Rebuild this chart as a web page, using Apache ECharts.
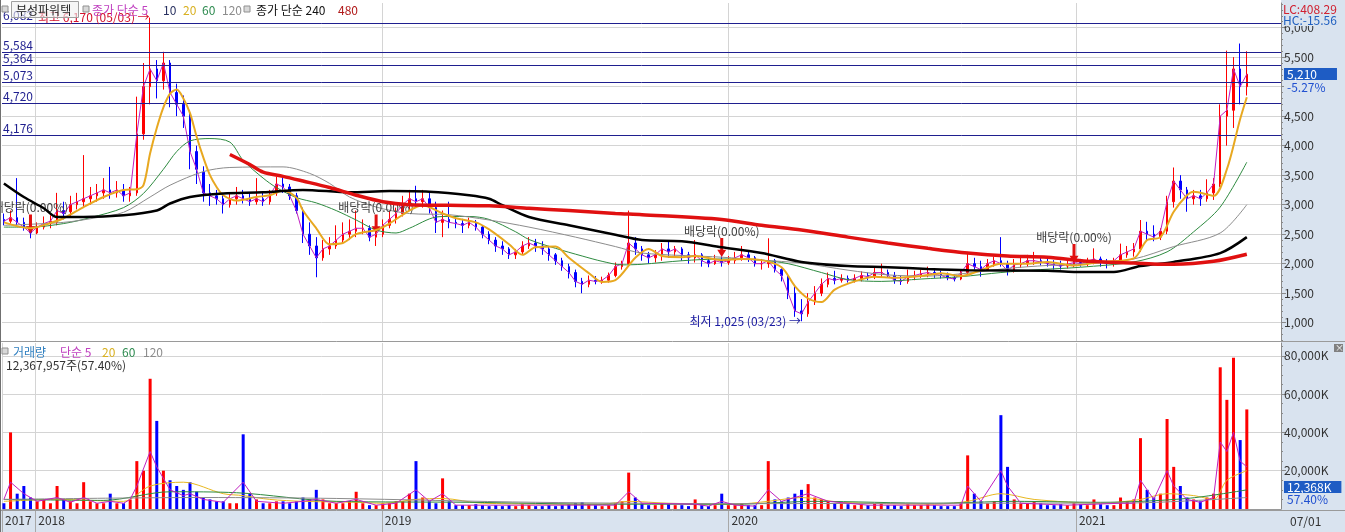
<!DOCTYPE html>
<html><head><meta charset="utf-8">
<script src="https://cdn.jsdelivr.net/npm/echarts@6/dist/echarts.min.js"></script>
<style>html,body{margin:0;padding:0;background:#fff}#c{width:1345px;height:532px}</style>
</head><body><div id="c"></div>
<script>
const FONT = '"Noto Sans CJK KR", "DejaVu Sans", sans-serif';

// weekly candles (mid-week dates)
const dates = [
'2017-11-29','2017-12-06','2017-12-13','2017-12-20','2017-12-27',
'2018-01-03','2018-01-10','2018-01-17','2018-01-24','2018-01-31','2018-02-07','2018-02-14','2018-02-21','2018-02-28','2018-03-07','2018-03-14','2018-03-21','2018-03-28','2018-04-04','2018-04-11','2018-04-18','2018-04-25','2018-05-02','2018-05-09','2018-05-16','2018-05-23','2018-05-30','2018-06-06','2018-06-13','2018-06-20','2018-06-27','2018-07-04','2018-07-11','2018-07-18','2018-07-25','2018-08-01','2018-08-08','2018-08-15','2018-08-22','2018-08-29','2018-09-05','2018-09-12','2018-09-19','2018-09-26','2018-10-03','2018-10-10','2018-10-17','2018-10-24','2018-10-31','2018-11-07','2018-11-14','2018-11-21','2018-11-28','2018-12-05','2018-12-12','2018-12-19','2018-12-26',
'2019-01-02','2019-01-09','2019-01-16','2019-01-23','2019-01-30','2019-02-06','2019-02-13','2019-02-20','2019-02-27','2019-03-06','2019-03-13','2019-03-20','2019-03-27','2019-04-03','2019-04-10','2019-04-17','2019-04-24','2019-05-01','2019-05-08','2019-05-15','2019-05-22','2019-05-29','2019-06-05','2019-06-12','2019-06-19','2019-06-26','2019-07-03','2019-07-10','2019-07-17','2019-07-24','2019-07-31','2019-08-07','2019-08-14','2019-08-21','2019-08-28','2019-09-04','2019-09-11','2019-09-18','2019-09-25','2019-10-02','2019-10-09','2019-10-16','2019-10-23','2019-10-30','2019-11-06','2019-11-13','2019-11-20','2019-11-27','2019-12-04','2019-12-11','2019-12-18','2019-12-25',
'2020-01-01','2020-01-08','2020-01-15','2020-01-22','2020-01-29','2020-02-05','2020-02-12','2020-02-19','2020-02-26','2020-03-04','2020-03-11','2020-03-18','2020-03-25','2020-04-01','2020-04-08','2020-04-15','2020-04-22','2020-04-29','2020-05-06','2020-05-13','2020-05-20','2020-05-27','2020-06-03','2020-06-10','2020-06-17','2020-06-24','2020-07-01','2020-07-08','2020-07-15','2020-07-22','2020-07-29','2020-08-05','2020-08-12','2020-08-19','2020-08-26','2020-09-02','2020-09-09','2020-09-16','2020-09-23','2020-09-30','2020-10-07','2020-10-14','2020-10-21','2020-10-28','2020-11-04','2020-11-11','2020-11-18','2020-11-25','2020-12-02','2020-12-09','2020-12-16','2020-12-23','2020-12-30',
'2021-01-06','2021-01-13','2021-01-20','2021-01-27','2021-02-03','2021-02-10','2021-02-17','2021-02-24','2021-03-03','2021-03-10','2021-03-17','2021-03-24','2021-03-31','2021-04-07','2021-04-14','2021-04-21','2021-04-28','2021-05-05','2021-05-12','2021-05-19','2021-05-26','2021-06-02','2021-06-09','2021-06-16','2021-06-23','2021-06-30'
];
const opens = [2750,2720,2780,2700,2620,2520,2620,2680,2700,2900,2880,3000,3050,3100,3150,3200,3250,3200,3250,3150,3200,4200,5000,5300,5100,5400,4900,4700,4500,3900,3550,3200,3150,3100,3000,3100,3150,3100,3050,3100,3050,3200,3350,3300,3150,2900,2500,2300,2100,2250,2300,2400,2500,2550,2600,2600,2450,2500,2650,2750,2850,3000,3100,3050,3100,2950,2700,2750,2700,2680,2650,2700,2620,2500,2400,2300,2250,2150,2200,2300,2350,2300,2250,2150,2050,1950,1850,1700,1650,1720,1700,1720,1800,1950,2000,2350,2250,2150,2100,2150,2250,2200,2250,2150,2100,2150,2050,2000,2050,2020,2050,2100,2150,2100,2000,2000,2050,1900,1800,1500,1200,1150,1350,1500,1650,1750,1720,1750,1720,1750,1800,1780,1850,1850,1800,1720,1700,1780,1800,1830,1850,1820,1800,1760,1740,1850,2000,1950,1900,2000,2050,2000,1880,1980,2000,2050,2050,2030,2000,1980,1960,1990,2020,2000,2040,2080,2020,2000,2050,2150,2200,2250,2550,2500,2450,2550,3050,3400,3250,3100,3150,3100,3200,3350,4500,4600,5300,5000];
const closes = [2720,2780,2700,2620,2520,2620,2680,2720,2900,2850,3000,3050,3100,3150,3200,3250,3200,3250,3150,3200,4200,5000,5300,5100,5400,4900,4700,4500,3900,3600,3200,3150,3100,3000,3100,3150,3100,3050,3100,3050,3150,3350,3300,3150,2900,2500,2300,2100,2250,2300,2400,2500,2550,2600,2600,2450,2500,2650,2750,2850,3000,3100,3050,3100,2950,2700,2750,2700,2680,2650,2700,2620,2500,2400,2300,2250,2150,2200,2300,2350,2300,2250,2150,2050,1950,1850,1700,1650,1720,1700,1720,1800,1950,2000,2350,2250,2150,2100,2150,2250,2200,2250,2150,2100,2150,2050,2000,2050,2020,2050,2100,2150,2100,2000,2000,2050,1900,1800,1500,1200,1150,1350,1500,1650,1750,1720,1750,1720,1750,1800,1780,1850,1850,1800,1720,1700,1780,1800,1830,1850,1820,1800,1760,1740,1850,2000,1950,1900,2000,2050,2000,1880,1980,2000,2050,2050,2030,2000,1980,1960,1990,2020,2000,2040,2080,2020,2000,2050,2150,2200,2250,2550,2500,2450,2550,3050,3400,3250,3100,3150,3100,3200,3350,4500,4600,5300,5000,5210];
const lows = [2650,2680,2650,2560,2430,2500,2580,2600,2650,2750,2800,2920,2950,3000,3050,3100,3100,3120,3050,3050,3150,4100,4700,4800,4950,4650,4500,4300,3600,3350,3050,2980,3000,2850,2950,3000,3020,2980,3000,2980,3000,3150,3200,3080,2850,2350,2150,1770,2050,2150,2250,2350,2400,2450,2500,2380,2300,2450,2600,2680,2800,2900,2950,2950,2850,2520,2450,2600,2600,2520,2600,2560,2430,2330,2200,2150,2080,2080,2150,2250,2200,2150,2050,1980,1880,1750,1600,1500,1600,1650,1660,1680,1770,1900,1950,2150,2050,2000,2020,2050,2100,2120,2050,2000,2020,1950,1940,1980,1950,1980,2000,2050,2030,1950,1900,1930,1850,1700,1400,1100,1025,1100,1300,1450,1600,1650,1680,1680,1680,1700,1720,1740,1760,1760,1660,1640,1660,1720,1760,1770,1760,1750,1720,1700,1720,1820,1900,1780,1880,1950,1950,1800,1850,1930,1950,1980,1970,1950,1900,1900,1920,1940,1950,1960,1990,1950,1920,1950,2000,2100,2120,2200,2400,2380,2400,2500,2950,3100,2880,3000,2980,3050,3080,3300,4000,4300,4700,4850];
const highs = [2850,2900,3450,2780,2650,2700,2800,2820,3200,3050,3150,3200,3840,3300,3350,3450,3640,3400,3350,3300,4830,5400,6170,5450,5590,5450,5050,4850,4600,4000,3650,3350,3250,3200,3200,3300,3250,3200,3450,3200,3250,3470,3460,3350,3200,2950,2700,2450,2400,2450,2650,2700,2750,2900,2750,2650,2600,2750,2900,2950,3150,3250,3320,3250,3200,3050,2900,3050,2780,2760,2780,2740,2650,2550,2450,2380,2280,2250,2380,2450,2420,2380,2300,2180,2100,2000,1900,1760,1800,1790,1780,1850,2020,2050,2900,2450,2300,2200,2230,2350,2400,2300,2280,2200,2400,2180,2100,2150,2120,2130,2200,2300,2200,2130,2080,2430,2080,1920,1800,1620,1400,1500,1620,1750,1850,1880,1820,1800,1820,1870,1850,1950,2000,1900,1860,1800,1900,1880,1900,1950,1920,1880,1850,1820,1900,2200,2100,2050,2080,2120,2450,2050,2080,2100,2150,2200,2120,2100,2060,2050,2050,2080,2080,2100,2260,2120,2080,2100,2340,2300,2350,2740,2710,2650,2600,3150,3630,3500,3300,3250,3250,3430,3450,4700,5610,5500,5730,5600];
// weekly peak daily volume, thousand shares
const volumes = [3000,40000,8000,12000,6000,4000,5000,3000,12000,5000,4000,3000,14000,4000,3000,3000,8000,3000,3000,5000,25000,20000,68000,46000,20000,15000,12000,10000,14000,9000,6000,5000,4000,4000,3000,3000,39000,8000,5000,3000,3000,4000,4000,3000,4000,6000,5000,10000,5000,3000,3000,3000,4000,9000,3000,2000,2000,3000,3000,4000,4000,8000,25000,6000,4000,3000,16000,4000,2000,2000,2000,2500,2000,1500,2000,1500,2000,1500,2500,2000,1500,1500,2000,1500,2000,2500,3000,3500,2500,2000,1500,2000,3000,4000,19000,6000,3000,2000,2000,3000,2500,2000,2000,1500,5000,2000,1500,2000,8000,2000,2000,3000,2000,2000,2000,25000,5000,4000,6000,8000,10000,13000,6000,5000,4000,3000,3000,2500,2000,2500,2000,3000,3000,2000,2000,1500,2500,2000,2000,2500,2000,1500,1500,1500,3000,28000,8000,4000,3000,4000,49000,22000,5000,3000,3000,4000,3000,2000,2000,2500,2000,3000,2500,2000,5000,2500,2000,2000,6000,4000,5000,37000,10000,6000,8000,47000,22000,12000,6000,5000,4000,6000,8000,74000,57000,79000,36000,52000];

// moving averages: [week index, value]
const ma20 = [[0,2700],[4,2600],[7,2690],[9,2770],[12,2960],[15,3130],[18,3250],[20,3260],[21,3330],[22,3870],[23,4300],[24,4650],[25,4880],[26,4950],[27,4800],[28,4550],[29,4150],[30,3800],[31,3500],[32,3300],[33,3160],[35,3070],[38,3130],[40,3160],[42,3240],[44,3120],[45,2900],[47,2600],[49,2330],[51,2350],[53,2500],[56,2570],[58,2680],[61,2900],[63,2990],[66,2850],[68,2770],[71,2700],[73,2580],[76,2330],[78,2150],[80,2280],[83,2290],[85,2100],[88,1840],[90,1690],[92,1720],[95,2100],[97,2250],[99,2130],[102,2110],[104,2130],[108,2060],[111,2080],[114,2060],[117,1940],[119,1620],[121,1410],[123,1350],[125,1560],[128,1700],[131,1780],[134,1760],[138,1790],[141,1840],[144,1790],[147,1890],[150,2000],[154,2000],[157,2030],[161,1970],[165,2030],[170,2090],[172,2400],[174,2450],[176,2880],[178,3160],[179,3220],[182,3150],[184,3600],[186,4450],[187,4820]];
const ma60 = [[0,2620],[4,2620],[9,2680],[13,2780],[18,2950],[21,3190],[24,3600],[26,3900],[28,4080],[31,4120],[34,4060],[36,3750],[39,3450],[41,3290],[44,3120],[47,3030],[50,2900],[53,2740],[56,2570],[59,2520],[61,2600],[65,2790],[67,2800],[70,2800],[73,2750],[77,2540],[79,2410],[83,2260],[87,2130],[90,2040],[93,1980],[96,1990],[102,2050],[108,2080],[114,2060],[118,2000],[123,1850],[127,1730],[132,1700],[138,1740],[144,1780],[150,1850],[156,1900],[162,1940],[170,2030],[175,2200],[179,2540],[183,2960],[187,3720]];
const ma120 = [[0,2650],[9,2700],[14,2780],[18,2870],[22,3130],[25,3330],[30,3560],[34,3630],[42,3640],[46,3530],[49,3360],[52,3130],[56,2960],[61,2850],[67,2830],[73,2740],[79,2620],[86,2450],[92,2290],[96,2180],[108,2110],[114,2060],[120,2010],[127,1890],[133,1810],[139,1790],[145,1840],[151,1920],[157,1970],[163,2000],[170,2080],[176,2290],[183,2520],[187,3000]];
const ma240 = [[0,3360],[3,3130],[6,2940],[8,2790],[12,2790],[18,2820],[23,2900],[25,3020],[28,3130],[33,3190],[39,3210],[45,3250],[52,3210],[58,3230],[64,3220],[70,3160],[73,3100],[75,2990],[79,2790],[85,2650],[92,2490],[96,2400],[102,2380],[108,2280],[114,2180],[120,2030],[127,1960],[133,1940],[139,1910],[145,1890],[157,1880],[161,1860],[167,1860],[171,1960],[176,2030],[183,2180],[187,2450]];
const ma480 = [[34,3850],[37,3680],[39,3550],[42,3480],[45,3400],[49,3290],[53,3160],[57,3050],[61,3000],[67,2990],[73,2980],[79,2940],[85,2900],[92,2850],[96,2830],[108,2750],[114,2650],[120,2570],[127,2450],[133,2350],[139,2260],[145,2180],[151,2130],[157,2110],[163,2040],[170,2010],[174,1990],[176,1990],[182,2040],[187,2160]];
const volMa5 = [[0,5000],[1,14000],[3,8000],[5,4000],[8,6000],[10,3500],[12,6000],[14,3000],[16,4000],[18,3000],[19,5000],[20,12000],[22,30000],[23,22000],[25,10000],[27,7000],[28,8000],[30,5000],[33,3500],[36,14000],[38,4000],[42,3000],[45,4000],[47,5000],[50,3000],[53,5000],[56,2000],[59,3000],[62,10000],[64,4000],[66,8000],[68,2000],[80,2000],[92,2000],[94,9000],[96,3000],[104,2500],[106,1500],[108,4000],[110,2000],[113,1500],[115,10000],[117,4000],[121,8000],[124,4000],[130,2000],[144,2000],[145,12000],[147,4000],[150,20000],[151,12000],[153,3000],[160,2000],[168,3000],[170,3000],[171,15000],[173,5000],[175,20000],[176,12000],[178,5000],[180,3500],[182,6000],[183,35000],[184,30000],[185,40000],[186,25000],[187,22000]];
const volMa20 = [[0,4000],[8,5000],[18,4000],[22,12000],[27,14000],[33,8000],[36,7000],[40,5000],[45,4000],[53,3500],[57,3000],[62,5000],[66,5500],[72,3000],[90,2500],[94,4000],[100,3000],[110,2500],[115,4000],[120,6000],[126,3500],[140,2500],[145,4000],[150,8000],[155,5000],[165,3000],[171,5000],[175,8000],[179,7000],[182,5000],[184,15000],[187,20000]];
const volMa60 = [[0,5000],[15,4500],[25,9000],[35,8500],[50,4000],[70,3500],[90,2500],[110,2500],[122,4000],[140,3000],[152,4000],[165,3500],[178,5500],[187,10000]];
const volMa120 = [[0,5000],[30,6000],[50,5500],[80,3500],[110,2800],[140,3000],[170,3200],[187,6000]];

const levels = [6082, 5584, 5364, 5073, 4720, 4176];
const priceTicks = [1000,1500,2000,2500,3000,3500,4000,4500,5000,5500,6000];
const volTicks = [20000,40000,60000,80000];
const yearLabels = ['2017','2018','2019','2020','2021'];
const peakIdx = 22, lowIdx = 120;
const dividendIdx = [4, 56, 108, 161];
const dividendAt = [2671, 2671, 2273, 2172];

const fmt = v => v.toLocaleString('en-US');
const ts = s => { const p = s.split('-').map(Number); return new Date(p[0], p[1] - 1, p[2]).getTime(); };
const xs = dates.map(ts);
const xMin = ts('2017-11-27');
const xMax = ts('2021-08-05');
const yearTicks = ['2018-01-01','2019-01-01','2020-01-01','2021-01-01'].map(ts);
const labelTicks = [xMin].concat(yearTicks);
const minorPrice = []; for (let v = 700; v <= 6400; v += 100) minorPrice.push(v);
const minorVol = []; for (let v = 5000; v <= 85000; v += 5000) minorVol.push(v);
const toLine = arr => arr.map(([i, v]) => [xs[i], v]);

const PANEL = '#d9e3ef';
const txt = (text, x, y, fill, extra) => ({
  type: 'text', z: 20, silent: true,
  style: Object.assign({ text, x, y, fill, font: '12px ' + FONT, verticalAlign: 'middle', align: 'left' }, extra || {})
});
const bullet = (x, y) => ({ type: 'rect', z: 20, silent: true, shape: { x, y, width: 6, height: 6 }, style: { fill: '#d8d8d8', stroke: '#909090', lineWidth: 1 } });
const line = (name, data, color, width, z, xi, smooth) => ({
  name, type: 'line', xAxisIndex: xi, yAxisIndex: xi, showSymbol: false, smooth: smooth, z,
  data, lineStyle: { color, width }, emphasis: { disabled: true }
});

const chart = echarts.init(document.getElementById('c'), null, { renderer: 'canvas' });
chart.setOption({
  animation: false,
  backgroundColor: '#ffffff',
  textStyle: { fontFamily: FONT },
  grid: [
    { left: 2, right: 64, top: 3, height: 338 },
    { left: 2, right: 64, top: 343, height: 166 }
  ],
  xAxis: [
    { type: 'value', gridIndex: 0, min: xMin, max: xMax, scale: true,
      axisLine: { show: false }, axisTick: { show: false, customValues: yearTicks },
      axisLabel: { show: false, customValues: yearTicks },
      splitLine: { show: true, lineStyle: { color: '#d4d4d4' } } },
    { type: 'value', gridIndex: 1, min: xMin, max: xMax, scale: true,
      axisLine: { show: true, lineStyle: { color: '#9a9a9a' } },
      axisTick: { show: true, customValues: labelTicks, length: 23, lineStyle: { color: '#a8a8a8' } },
      axisLabel: { show: true, customValues: labelTicks, align: 'left', margin: 5, padding: [0,0,0,3],
        color: '#333', fontSize: 12, fontFamily: FONT,
        formatter: v => yearLabels[labelTicks.indexOf(v)] || '' },
      splitLine: { show: true, lineStyle: { color: '#d4d4d4' } } }
  ],
  yAxis: [
    { type: 'value', gridIndex: 0, position: 'right', min: 690, max: 6417,
      axisLine: { show: true, lineStyle: { color: '#8a8a8a' } },
      axisTick: { show: true, customValues: priceTicks, length: 5, lineStyle: { color: '#8a8a8a' } },
      axisLabel: { customValues: priceTicks, formatter: v => fmt(v), color: '#333', fontSize: 12, fontFamily: FONT, margin: 3 },
      splitLine: { show: true, lineStyle: { color: '#d4d4d4' } } },
    { type: 'value', gridIndex: 1, position: 'right', min: 0, max: 86684,
      axisLine: { show: true, lineStyle: { color: '#8a8a8a' } },
      axisTick: { show: true, customValues: volTicks, length: 5, lineStyle: { color: '#8a8a8a' } },
      axisLabel: { customValues: volTicks, formatter: v => fmt(v) + 'K', color: '#333', fontSize: 12, fontFamily: FONT, margin: 3 },
      splitLine: { show: true, lineStyle: { color: '#d4d4d4' } } },
    { type: 'value', gridIndex: 0, position: 'right', min: 690, max: 6417,
      axisLine: { show: false }, axisLabel: { show: false }, splitLine: { show: false },
      axisTick: { show: true, customValues: minorPrice, length: 2, lineStyle: { color: '#8a8a8a' } } },
    { type: 'value', gridIndex: 1, position: 'right', min: 0, max: 86684,
      axisLine: { show: false }, axisLabel: { show: false }, splitLine: { show: false },
      axisTick: { show: true, customValues: minorVol, length: 2, lineStyle: { color: '#8a8a8a' } } }
  ],
  series: [
    { name: 'price', type: 'candlestick', xAxisIndex: 0, yAxisIndex: 0, barWidth: 2, z: 3,
      encode: { x: 0, y: [1, 2, 3, 4] },
      data: xs.map((d, i) => [d, opens[i], closes[i], lows[i], highs[i]]),
      itemStyle: { color: '#ff0000', color0: '#0000ff', borderColor: '#ff0000', borderColor0: '#0000ff', borderWidth: 1 },
      emphasis: { disabled: true },
      markLine: { silent: true, symbol: ['none', 'none'], animation: false,
        lineStyle: { color: '#1f1f8f', width: 1, type: 'solid' },
        label: { show: true, position: 'insideStartTop', distance: [1, 1], formatter: p => fmt(p.value), color: '#1f1f8f', fontSize: 12, fontFamily: FONT },
        emphasis: { disabled: true },
        data: levels.map(v => ({ yAxis: v })) },
      markPoint: { silent: true, animation: false,
        data: [
          { coord: [xs[peakIdx], highs[peakIdx]], symbol: 'circle', symbolSize: 1, itemStyle: { color: 'rgba(0,0,0,0)' },
            label: { show: true, position: 'left', distance: 0, formatter: '최고 6,170 (05/03) →', color: '#d4102c', fontSize: 12, fontFamily: FONT } },
          { coord: [xs[lowIdx], lows[lowIdx]], symbol: 'circle', symbolSize: 1, itemStyle: { color: 'rgba(0,0,0,0)' },
            label: { show: true, position: 'left', distance: 0, formatter: '최저 1,025 (03/23) →', color: '#1a1aa0', fontSize: 12, fontFamily: FONT } }
        ].concat(dividendIdx.map((idx, k) => ({
          coord: [xs[idx], dividendAt[k]],
          symbol: 'path://M3,0 L6,0 L6,11 L9,11 L4.5,18 L0,11 L3,11 Z', symbolSize: [9, 19],
          itemStyle: { color: '#e01010' },
          label: { show: true, position: 'top', distance: 1, formatter: '배당락(0.00%)', color: '#404040', fontSize: 12, fontFamily: FONT }
        }))) } },
    line('MA5', xs.map((d, i) => [d, closes[i]]), '#c020c0', 1, 4, 0, false),
    line('MA20', toLine(ma20), '#e8a820', 2, 5, 0, 0.3),
    line('MA60', toLine(ma60), '#2e8b40', 1, 4, 0, 0.3),
    line('MA120', toLine(ma120), '#8c8c8c', 1, 4, 0, 0.3),
    line('MA240', toLine(ma240), '#000000', 2.5, 6, 0, 0.3),
    line('MA480', toLine(ma480), '#e01010', 3.5, 6, 0, 0.3),
    { name: 'Volume', type: 'bar', xAxisIndex: 1, yAxisIndex: 1, barWidth: 3, z: 3,
      emphasis: { disabled: true },
      data: xs.map((d, i) => ({ value: [d, volumes[i]], itemStyle: { color: closes[i] >= opens[i] ? '#ff0000' : '#0000ff' } })) },
    line('VMA5', toLine(volMa5), '#c020c0', 1, 5, 1, false),
    line('VMA20', toLine(volMa20), '#e8b820', 1, 4, 1, 0.3),
    line('VMA60', toLine(volMa60), '#2e8b40', 1, 4, 1, 0.3),
    line('VMA120', toLine(volMa120), '#8c8c8c', 1, 4, 1, 0.3)
  ],
  graphic: [
    { type: 'rect', z: -1, silent: true, shape: { x: 1281, y: 0, width: 64, height: 532 }, style: { fill: PANEL } },
    { type: 'rect', z: -1, silent: true, shape: { x: 0, y: 511, width: 1281, height: 21 }, style: { fill: PANEL } },
    { type: 'line', z: 15, silent: true, shape: { x1: 0, y1: 341.5, x2: 1345, y2: 341.5 }, style: { stroke: '#9a9a9a', lineWidth: 1 } },
    { type: 'line', z: 15, silent: true, shape: { x1: 0, y1: 510.5, x2: 1345, y2: 510.5 }, style: { stroke: '#9a9a9a', lineWidth: 1 } },
    { type: 'line', z: 15, silent: true, shape: { x1: 0.5, y1: 0, x2: 0.5, y2: 532 }, style: { stroke: '#707070', lineWidth: 1 } },
    bullet(2, 6),
    { type: 'rect', z: 19, silent: true, shape: { x: 11.5, y: 1.5, width: 67, height: 16 }, style: { fill: 'rgba(240,240,240,0.6)', stroke: '#a0a0a0', lineWidth: 1 } },
    txt('부성파워텍', 16, 10, '#222'),
    bullet(83, 6),
    txt('종가 단순 5', 92, 10, '#c040c0'),
    txt('10', 163, 10, '#283060'),
    txt('20', 183, 10, '#d8b020'),
    txt('60', 202, 10, '#2e8b50'),
    txt('120', 222, 10, '#8c8c8c'),
    bullet(244, 6),
    txt('종가 단순 240', 256, 10, '#111'),
    txt('480', 338, 10, '#b01818'),
    bullet(2, 348),
    txt('거래량', 13, 352, '#2f7fc0'),
    txt('단순 5', 60, 352, '#c040c0'),
    txt('20', 102, 352, '#d8b020'),
    txt('60', 122, 352, '#2e8b50'),
    txt('120', 143, 352, '#8c8c8c'),
    txt('12,367,957주(57.40%)', 6, 365, '#333'),
    txt('LC:408.29', 1283, 9, '#d02030', { backgroundColor: PANEL, padding: [0, 8, 0, 0] }),
    txt('HC:-15.56', 1283, 20, '#2060c0', { backgroundColor: PANEL, padding: [0, 8, 0, 0] }),
    txt('5,210', 1284, 74, '#ffffff', { backgroundColor: '#1e5cc4', padding: [0, 20, 0, 3] }),
    txt('-5.27%', 1284, 87, '#2050d0', { backgroundColor: PANEL, padding: [0, 14, 0, 3] }),
    txt('12,368K', 1284, 487, '#ffffff', { backgroundColor: '#1e5cc4', padding: [0, 10, 0, 3] }),
    txt('57.40%', 1284, 499, '#2050d0', { backgroundColor: PANEL, padding: [0, 14, 0, 3] }),
    txt('07/01', 1290, 521, '#333'),
    { type: 'rect', z: 20, silent: true, shape: { x: 1334, y: 344, width: 9, height: 8 }, style: { fill: '#808080' } },
    txt('×', 1335, 348, '#ffffff', { font: '9px ' + FONT })
  ]
});
</script></body></html>
